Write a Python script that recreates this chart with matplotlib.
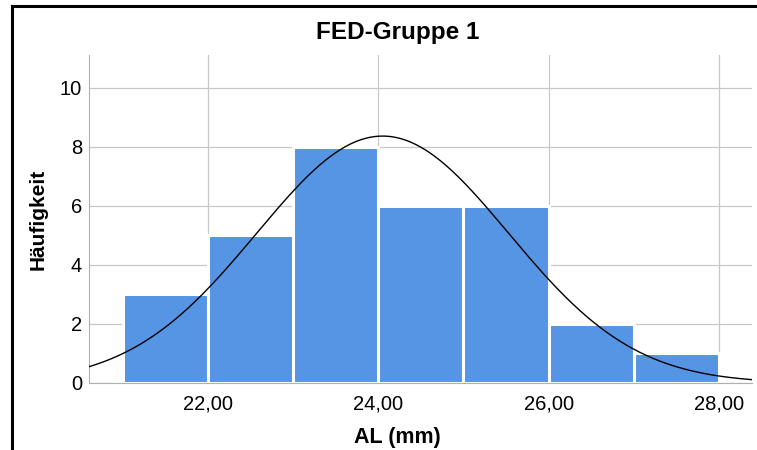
import matplotlib
matplotlib.use("Agg")
import matplotlib.pyplot as plt
from matplotlib.lines import Line2D
import numpy as np

# Histogramm-Daten (AL in mm)
bin_edges = [21, 22, 23, 24, 25, 26, 27, 28]
counts = [3, 5, 8, 6, 6, 2, 1]

# Parameter der Normalverteilungskurve
mean_al = 24.05
sd_al = 1.48
n_total = 31

x_ticks = [22, 24, 26, 28]
x_tick_labels = ["22,00", "24,00", "26,00", "28,00"]
y_ticks = [0, 2, 4, 6, 8, 10]

plt.rcParams["font.family"] = ["Liberation Sans", "DejaVu Sans"]

fig = plt.figure(figsize=(7.57, 4.50), dpi=100)
ax = fig.add_axes([89 / 757, 1 - 383 / 450, (752 - 89) / 757, (383 - 55) / 450])

widths = np.diff(bin_edges)
ax.bar(bin_edges[:-1], counts, width=widths, align="edge",
       color="#5694E4", edgecolor="white", linewidth=2.2, zorder=2)

xs = np.linspace(20.6, 28.39, 400)
ys = n_total * 1.0 / (sd_al * np.sqrt(2 * np.pi)) * np.exp(-(xs - mean_al) ** 2 / (2 * sd_al ** 2))
ax.plot(xs, ys, color="black", linewidth=1, zorder=3)

ax.set_xlim(20.6, 28.39)
ax.set_ylim(0, 11.1)
ax.set_xticks(x_ticks)
ax.set_xticklabels(x_tick_labels)
ax.set_yticks(y_ticks)
ax.tick_params(length=0, labelsize=14.5)
ax.tick_params(axis="x", pad=8)
ax.tick_params(axis="y", pad=5)
ax.grid(True, color="#c8c8c8", linewidth=0.9, zorder=0)
ax.set_axisbelow(True)

for s in ["top", "right"]:
    ax.spines[s].set_visible(False)
ax.spines["left"].set_color("#b0b0b0")
ax.spines["bottom"].set_color("#b0b0b0")

fig.text(397 / 757, 1 - 438 / 450, "AL (mm)", fontsize=15.5, fontweight="bold",
         ha="center", va="center")
fig.text(38 / 757, 1 - 219 / 450, "Häufigkeit", fontsize=15, fontweight="bold",
         ha="center", va="center", rotation=90)
fig.text(398 / 757, 1 - 33 / 450, "FED-Gruppe 1", fontsize=17.5, fontweight="bold",
         ha="center", va="center")

# schwarzer Rahmen oben und links
fig.add_artist(Line2D([12 / 757, 12 / 757], [0, 1 - 5.5 / 450], color="black", linewidth=2.2))
fig.add_artist(Line2D([12 / 757, 1], [1 - 5.5 / 450, 1 - 5.5 / 450], color="black", linewidth=2.2))

fig.savefig("out.png", dpi=100)
